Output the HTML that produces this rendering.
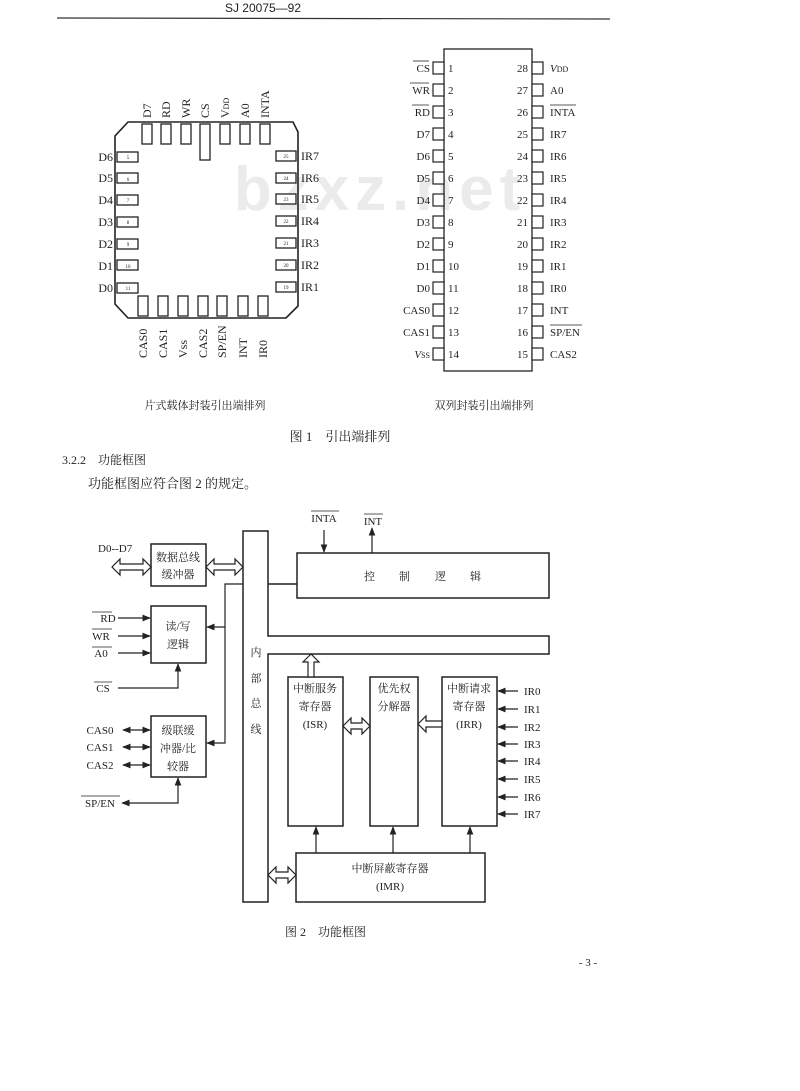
<!DOCTYPE html>
<html><head><meta charset="utf-8"><style>
html,body{margin:0;padding:0;background:#fff;}
svg{display:block;}
text{font-family:"Liberation Serif","Noto Serif CJK SC","Noto Sans CJK SC",serif;fill:#222;}
.cj{font-family:"Liberation Serif","Noto Serif CJK SC","Noto Sans CJK SC",serif;}
</style></head><body>
<svg width="800" height="1091" viewBox="0 0 800 1091" xmlns="http://www.w3.org/2000/svg">
<defs>
<marker id="ar" viewBox="0 0 10 10" refX="9" refY="5" markerWidth="7" markerHeight="7" orient="auto-start-reverse"><path d="M0,1 L10,5 L0,9 z" fill="#222"/></marker>
</defs>
<!-- header -->
<text x="263" y="12" font-size="12" text-anchor="middle" font-family="Liberation Sans" style="font-family:'Liberation Sans',sans-serif">SJ 20075—92</text>
<line x1="57" y1="18" x2="610" y2="19" stroke="#333" stroke-width="1.2"/>
<!-- watermark -->
<text x="380" y="210" font-size="62" font-weight="bold" text-anchor="middle" fill="#ebebeb" style="fill:#ebebeb;font-family:'Liberation Sans',sans-serif" letter-spacing="6">bzxz.net</text>

<!-- PLCC -->
<g stroke="#222" stroke-width="1.6" fill="none">
<path d="M128,122 L293,122 L298,132 L298,306 L286,318 L128,318 L115,304 L115,136 Z"/>
</g>
<g stroke="#222" stroke-width="1.3" fill="#fff">
<!-- left pins -->
<rect x="117" y="152" width="21" height="10"/><rect x="117" y="173" width="21" height="10"/><rect x="117" y="195" width="21" height="10"/><rect x="117" y="217" width="21" height="10"/><rect x="117" y="239" width="21" height="10"/><rect x="117" y="260" width="21" height="10"/><rect x="117" y="283" width="21" height="10"/>
<!-- right pins -->
<rect x="276" y="151" width="20" height="10"/><rect x="276" y="173" width="20" height="10"/><rect x="276" y="194" width="20" height="10"/><rect x="276" y="216" width="20" height="10"/><rect x="276" y="238" width="20" height="10"/><rect x="276" y="260" width="20" height="10"/><rect x="276" y="282" width="20" height="10"/>
<!-- top pins -->
<rect x="142" y="124" width="10" height="20"/><rect x="161" y="124" width="10" height="20"/><rect x="181" y="124" width="10" height="20"/><rect x="200" y="124" width="10" height="36"/><rect x="220" y="124" width="10" height="20"/><rect x="240" y="124" width="10" height="20"/><rect x="260" y="124" width="10" height="20"/>
<!-- bottom pins -->
<rect x="138" y="296" width="10" height="20"/><rect x="158" y="296" width="10" height="20"/><rect x="178" y="296" width="10" height="20"/><rect x="198" y="296" width="10" height="20"/><rect x="217" y="296" width="10" height="20"/><rect x="238" y="296" width="10" height="20"/><rect x="258" y="296" width="10" height="20"/>
</g>
<g font-size="5" text-anchor="middle">
<text x="128" y="159">5</text><text x="128" y="181">6</text><text x="128" y="202">7</text><text x="128" y="224">8</text><text x="128" y="246">9</text><text x="128" y="268">10</text><text x="128" y="290">11</text>
<text x="286" y="158">25</text><text x="286" y="180">24</text><text x="286" y="201">23</text><text x="286" y="223">22</text><text x="286" y="245">21</text><text x="286" y="267">20</text><text x="286" y="289">19</text>
</g>
<g font-size="12">
<text x="113" y="161" text-anchor="end">D6</text><text x="113" y="182" text-anchor="end">D5</text><text x="113" y="204" text-anchor="end">D4</text><text x="113" y="226" text-anchor="end">D3</text><text x="113" y="248" text-anchor="end">D2</text><text x="113" y="270" text-anchor="end">D1</text><text x="113" y="292" text-anchor="end">D0</text>
<text x="301" y="160">IR7</text><text x="301" y="182">IR6</text><text x="301" y="203">IR5</text><text x="301" y="225">IR4</text><text x="301" y="247">IR3</text><text x="301" y="269">IR2</text><text x="301" y="291">IR1</text>
</g>
<g font-size="12">
<text transform="translate(151,118) rotate(-90)">D7</text>
<text transform="translate(170,118) rotate(-90)">RD</text>
<text transform="translate(190,118) rotate(-90)">WR</text>
<text transform="translate(209,118) rotate(-90)">CS</text>
<text transform="translate(229,118) rotate(-90)">V<tspan font-size="8">DD</tspan></text>
<text transform="translate(249,118) rotate(-90)">A0</text>
<text transform="translate(269,118) rotate(-90)">INTA</text>
<text transform="translate(147,358) rotate(-90)">CAS0</text>
<text transform="translate(167,358) rotate(-90)">CAS1</text>
<text transform="translate(187,358) rotate(-90)">Vss</text>
<text transform="translate(207,358) rotate(-90)">CAS2</text>
<text transform="translate(226,358) rotate(-90)">SP/EN</text>
<text transform="translate(247,358) rotate(-90)">INT</text>
<text transform="translate(267,358) rotate(-90)">IR0</text>
</g>

<!-- DIP -->
<rect x="444" y="49" width="88" height="322" fill="none" stroke="#222" stroke-width="1.3"/>
<g stroke="#222" stroke-width="1.2" fill="#fff" id="dippins">
<rect x="433" y="62" width="11" height="12"/><rect x="433" y="84" width="11" height="12"/><rect x="433" y="106" width="11" height="12"/><rect x="433" y="128" width="11" height="12"/><rect x="433" y="150" width="11" height="12"/><rect x="433" y="172" width="11" height="12"/><rect x="433" y="194" width="11" height="12"/><rect x="433" y="216" width="11" height="12"/><rect x="433" y="238" width="11" height="12"/><rect x="433" y="260" width="11" height="12"/><rect x="433" y="282" width="11" height="12"/><rect x="433" y="304" width="11" height="12"/><rect x="433" y="326" width="11" height="12"/><rect x="433" y="348" width="11" height="12"/>
<rect x="532" y="62" width="11" height="12"/><rect x="532" y="84" width="11" height="12"/><rect x="532" y="106" width="11" height="12"/><rect x="532" y="128" width="11" height="12"/><rect x="532" y="150" width="11" height="12"/><rect x="532" y="172" width="11" height="12"/><rect x="532" y="194" width="11" height="12"/><rect x="532" y="216" width="11" height="12"/><rect x="532" y="238" width="11" height="12"/><rect x="532" y="260" width="11" height="12"/><rect x="532" y="282" width="11" height="12"/><rect x="532" y="304" width="11" height="12"/><rect x="532" y="326" width="11" height="12"/><rect x="532" y="348" width="11" height="12"/>
</g>
<g font-size="11">
<g text-anchor="end">
<text x="430" y="72">CS</text><text x="430" y="94">WR</text><text x="430" y="116">RD</text><text x="430" y="138">D7</text><text x="430" y="160">D6</text><text x="430" y="182">D5</text><text x="430" y="204">D4</text><text x="430" y="226">D3</text><text x="430" y="248">D2</text><text x="430" y="270">D1</text><text x="430" y="292">D0</text><text x="430" y="314">CAS0</text><text x="430" y="336">CAS1</text><text x="430" y="358"><tspan font-style="italic">V</tspan><tspan font-size="8">SS</tspan></text>
<text x="528" y="72">28</text><text x="528" y="94">27</text><text x="528" y="116">26</text><text x="528" y="138">25</text><text x="528" y="160">24</text><text x="528" y="182">23</text><text x="528" y="204">22</text><text x="528" y="226">21</text><text x="528" y="248">20</text><text x="528" y="270">19</text><text x="528" y="292">18</text><text x="528" y="314">17</text><text x="528" y="336">16</text><text x="528" y="358">15</text>
</g>
<text x="448" y="72">1</text><text x="448" y="94">2</text><text x="448" y="116">3</text><text x="448" y="138">4</text><text x="448" y="160">5</text><text x="448" y="182">6</text><text x="448" y="204">7</text><text x="448" y="226">8</text><text x="448" y="248">9</text><text x="448" y="270">10</text><text x="448" y="292">11</text><text x="448" y="314">12</text><text x="448" y="336">13</text><text x="448" y="358">14</text>
<text x="550" y="72"><tspan font-style="italic">V</tspan><tspan font-size="8">DD</tspan></text><text x="550" y="94">A0</text><text x="550" y="116">INTA</text><text x="550" y="138">IR7</text><text x="550" y="160">IR6</text><text x="550" y="182">IR5</text><text x="550" y="204">IR4</text><text x="550" y="226">IR3</text><text x="550" y="248">IR2</text><text x="550" y="270">IR1</text><text x="550" y="292">IR0</text><text x="550" y="314">INT</text><text x="550" y="336">SP/EN</text><text x="550" y="358">CAS2</text>
</g>
<g stroke="#222" stroke-width="0.8">
<line x1="413" y1="61" x2="429" y2="61"/><line x1="410" y1="83" x2="429" y2="83"/><line x1="412" y1="105" x2="429" y2="105"/>
<line x1="550" y1="105" x2="576" y2="105"/><line x1="550" y1="325" x2="582" y2="325"/>
</g>

<!-- captions -->
<text x="205" y="409" font-size="11" text-anchor="middle" class="cj">片式载体封装引出端排列</text>
<text x="484" y="409" font-size="11" text-anchor="middle" class="cj">双列封装引出端排列</text>
<text x="340" y="441" font-size="13" text-anchor="middle" class="cj">图 1　引出端排列</text>
<text x="62" y="464" font-size="12" class="cj">3.2.2　功能框图</text>
<text x="88" y="488" font-size="13" class="cj">功能框图应符合图 2 的规定。</text>

<!-- Figure 2 -->
<g stroke="#222" stroke-width="1.5" fill="none">
<!-- internal bus -->
<path d="M243,531 L268,531 L268,636 L549,636 L549,654 L268,654 L268,902 L243,902 Z"/>
<rect x="297" y="553" width="252" height="45"/>
<line x1="268" y1="584" x2="297" y2="584"/>
<rect x="151" y="544" width="55" height="42"/>
<rect x="151" y="606" width="55" height="57"/>
<rect x="151" y="716" width="55" height="61"/>
<rect x="288" y="677" width="55" height="149"/>
<rect x="370" y="677" width="48" height="149"/>
<rect x="442" y="677" width="55" height="149"/>
<rect x="296" y="853" width="189" height="49"/>
</g>
<!-- double hollow arrows -->
<g stroke="#222" stroke-width="1.2" fill="#fff">
<path d="M112,567 L120,559 L120,564 L143,564 L143,559 L151,567 L143,575 L143,570 L120,570 L120,575 Z"/>
<path d="M206,567 L214,559 L214,564 L235,564 L235,559 L243,567 L235,575 L235,570 L214,570 L214,575 Z"/>
<path d="M343,726 L351,718 L351,723 L362,723 L362,718 L370,726 L362,734 L362,729 L351,729 L351,734 Z"/>
<path d="M268,875 L276,867 L276,872 L288,872 L288,867 L296,875 L288,883 L288,878 L276,878 L276,883 Z"/>
<path d="M418,724 L426,716 L426,721 L442,721 L442,727 L426,727 L426,732 Z"/>
<path d="M311,654 L303,662 L308,662 L308,677 L314,677 L314,662 L319,662 Z"/>
</g>
<g stroke="#222" stroke-width="1.2" fill="none">
<line x1="118" y1="618" x2="150" y2="618" marker-end="url(#ar)"/>
<line x1="118" y1="636" x2="150" y2="636" marker-end="url(#ar)"/>
<line x1="118" y1="653" x2="150" y2="653" marker-end="url(#ar)"/>
<polyline points="118,688 178,688 178,664" marker-end="url(#ar)"/>
<polyline points="243,584 225,584 225,743 207,743" marker-end="url(#ar)"/>
<line x1="225" y1="627" x2="207" y2="627" marker-end="url(#ar)"/>
<line x1="123" y1="730" x2="150" y2="730" marker-start="url(#ar)" marker-end="url(#ar)"/>
<line x1="123" y1="747" x2="150" y2="747" marker-start="url(#ar)" marker-end="url(#ar)"/>
<line x1="123" y1="765" x2="150" y2="765" marker-start="url(#ar)" marker-end="url(#ar)"/>
<polyline points="178,778 178,803 122,803" marker-start="url(#ar)" marker-end="url(#ar)"/>
<line x1="324" y1="530" x2="324" y2="552" marker-end="url(#ar)"/>
<line x1="372" y1="553" x2="372" y2="528" marker-end="url(#ar)"/>
<line x1="316" y1="853" x2="316" y2="827" marker-end="url(#ar)"/>
<line x1="393" y1="853" x2="393" y2="827" marker-end="url(#ar)"/>
<line x1="470" y1="853" x2="470" y2="827" marker-end="url(#ar)"/>
<line x1="518" y1="691" x2="498" y2="691" marker-end="url(#ar)"/>
<line x1="518" y1="709" x2="498" y2="709" marker-end="url(#ar)"/>
<line x1="518" y1="727" x2="498" y2="727" marker-end="url(#ar)"/>
<line x1="518" y1="744" x2="498" y2="744" marker-end="url(#ar)"/>
<line x1="518" y1="761" x2="498" y2="761" marker-end="url(#ar)"/>
<line x1="518" y1="779" x2="498" y2="779" marker-end="url(#ar)"/>
<line x1="518" y1="797" x2="498" y2="797" marker-end="url(#ar)"/>
<line x1="518" y1="814" x2="498" y2="814" marker-end="url(#ar)"/>
</g>
<g font-size="11">
<text x="98" y="552">D0--D7</text>
<text x="108" y="622" text-anchor="middle">RD</text>
<text x="101" y="640" text-anchor="middle">WR</text>
<text x="101" y="657" text-anchor="middle">A0</text>
<text x="103" y="692" text-anchor="middle">CS</text>
<text x="100" y="734" text-anchor="middle">CAS0</text>
<text x="100" y="751" text-anchor="middle">CAS1</text>
<text x="100" y="769" text-anchor="middle">CAS2</text>
<text x="100" y="807" text-anchor="middle">SP/EN</text>
<text x="324" y="522" text-anchor="middle">INTA</text>
<text x="373" y="525" text-anchor="middle">INT</text>
<text x="524" y="695">IR0</text><text x="524" y="713">IR1</text><text x="524" y="731">IR2</text><text x="524" y="748">IR3</text><text x="524" y="765">IR4</text><text x="524" y="783">IR5</text><text x="524" y="801">IR6</text><text x="524" y="818">IR7</text>
</g>
<g stroke="#222" stroke-width="0.8">
<line x1="92" y1="612" x2="112" y2="612"/><line x1="92" y1="629" x2="112" y2="629"/><line x1="92" y1="647" x2="112" y2="647"/><line x1="94" y1="682" x2="112" y2="682"/><line x1="81" y1="796" x2="120" y2="796"/>
<line x1="311" y1="511" x2="339" y2="511"/><line x1="364" y1="514" x2="383" y2="514"/>
</g>
<g font-size="11" text-anchor="middle" class="cj">
<text x="178" y="561">数据总线</text><text x="178" y="578">缓冲器</text>
<text x="178" y="630">读/写</text><text x="178" y="648">逻辑</text>
<text x="178" y="734">级联缓</text><text x="178" y="752">冲器/比</text><text x="178" y="770">较器</text>
<text x="315" y="692">中断服务</text><text x="315" y="710">寄存器</text><text x="315" y="728">(ISR)</text>
<text x="394" y="692">优先权</text><text x="394" y="710">分解器</text>
<text x="469" y="692">中断请求</text><text x="469" y="710">寄存器</text><text x="469" y="728">(IRR)</text>
<text x="390" y="872">中断屏蔽寄存器</text><text x="390" y="890">(IMR)</text>
<text x="256" y="656">内</text><text x="256" y="682">部</text><text x="256" y="707">总</text><text x="256" y="733">线</text>
</g>
<g font-size="11" class="cj"><text x="364" y="580">控</text><text x="399" y="580">制</text><text x="435" y="580">逻</text><text x="470" y="580">辑</text></g>
<text x="285" y="936" font-size="12" class="cj">图 2　功能框图</text>
<text x="588" y="966" font-size="11" text-anchor="middle">- 3 -</text>
</svg>
</body></html>
